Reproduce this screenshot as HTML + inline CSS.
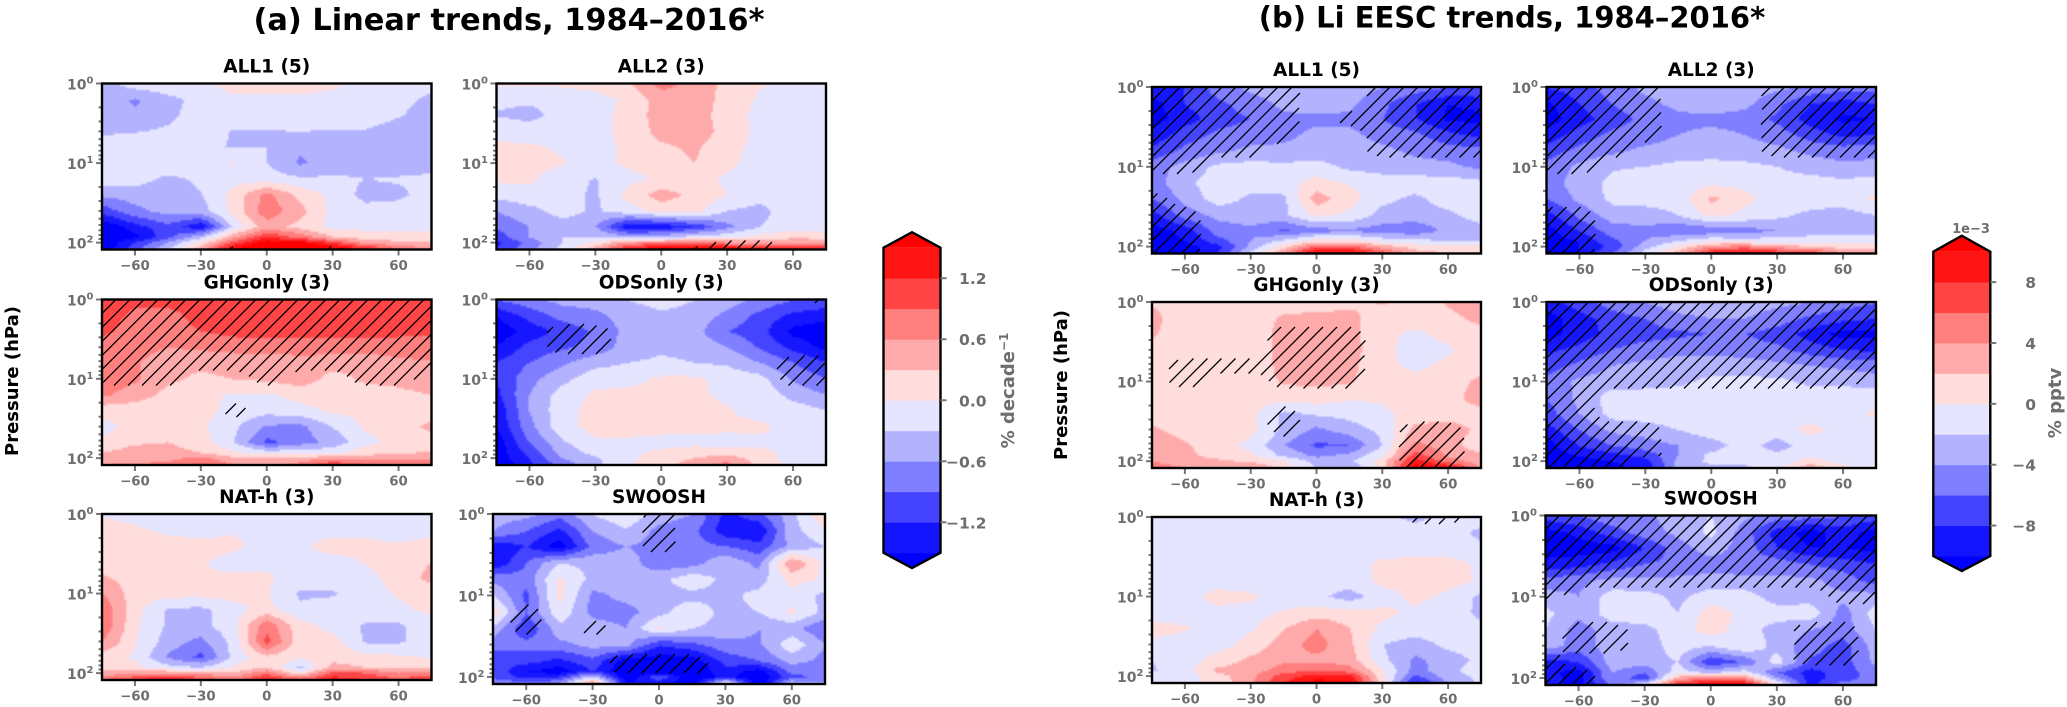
<!DOCTYPE html>
<html lang="en">
<head>
<meta charset="utf-8">
<title>Linear and Li EESC trends, 1984–2016</title>
<style>
html,body{margin:0;padding:0;background:#fff;}
svg{display:block;}
text{font-family:"DejaVu Sans","Liberation Sans",sans-serif;font-weight:bold;}
</style>
</head>
<body>
<svg id="figure" xmlns="http://www.w3.org/2000/svg" width="2067" height="707" viewBox="0 0 2067 707">
<defs><filter id="soft" x="-2%" y="-2%" width="104%" height="104%"><feGaussianBlur stdDeviation="0.7"/></filter></defs>
<rect width="2067" height="707" fill="#fff"/>
<text x="509" y="30" font-size="30.4" text-anchor="middle" fill="#000">(a) Linear trends, 1984–2016*</text>
<text x="1512" y="27.5" font-size="29" text-anchor="middle" fill="#000">(b) Li EESC trends, 1984–2016*</text>
<text transform="translate(18,381) rotate(-90)" font-size="18" text-anchor="middle" fill="#000">Pressure (hPa)</text>
<text transform="translate(1067,385) rotate(-90)" font-size="18" text-anchor="middle" fill="#000">Pressure (hPa)</text>
<text transform="translate(1014,390.5) rotate(-90)" font-size="18" text-anchor="middle" fill="#6e6e6e">% decade<tspan font-size="12" dy="-6">−1</tspan></text>
<text transform="translate(2061,403) rotate(-90)" font-size="18" text-anchor="middle" fill="#6e6e6e">% pptv</text>
<text x="1971" y="233" font-size="13" text-anchor="middle" fill="#6e6e6e">1e−3</text>
<g id="panels"></g>
<g id="bars"></g>
</svg>
<script>
const lats = [-75,-60,-45,-30,-15,0,15,30,45,60,75];
const pressures = [1,1.6,2.5,4,6.3,10,16,25,40,63,85,100,122];
const latTicks = [-60,-30,0,30,60];
const latTickLabels = ['−60','−30','0','30','60'];
const decadeTicks = [1,10,100];
const decadeExponents = ['0','1','2'];
const minorMultipliers = [2,3,4,5,6,7,8,9];
const bandColors = ['#0000ff','#1414ff','#4444ff','#7f7fff','#b2b2ff','#e5e5ff','#ffdddd','#ffaaaa','#ff7f7f','#ff4444','#ff1414','#ff0000'];
const levelsLinear = [-1.5,-1.2,-0.9,-0.6,-0.3,0,0.3,0.6,0.9,1.2,1.5];
const levelsEesc = [-10,-8,-6,-4,-2,0,2,4,6,8,10];
const barTicksLinear = [1.2,0.6,0,-0.6,-1.2];
const barLabelsLinear = ['1.2','0.6','0.0','−0.6','−1.2'];
const barTicksEesc = [8,4,0,-4,-8];
const barLabelsEesc = ['8','4','0','−4','−8'];

const linearAll1 = [
[-.45,-.15,-.1,-.05,.1,.1,.1,.05,-.1,-.15,-.2],
[-.4,-.65,-.4,-.2,-.05,-.05,-.05,-.1,-.15,-.2,-.38],
[-.45,-.55,-.38,-.15,-.15,-.15,-.15,-.15,-.15,-.28,-.45],
[-.35,-.32,-.25,-.15,-.33,-.32,-.3,-.33,-.33,-.45,-.45],
[-.15,-.12,-.12,-.25,-.32,-.3,-.55,-.45,-.4,-.45,-.45],
[-.12,-.1,-.1,-.1,.02,-.3,-.65,-.45,-.4,-.4,-.4],
[-.15,-.2,-.38,-.25,-.1,-.15,-.25,-.25,-.3,-.28,-.25],
[-.55,-.45,-.4,-.32,.1,.7,.2,-.1,-.4,-.35,-.2],
[-1.1,-.7,-.5,-.45,.1,.8,.4,-.1,-.2,-.2,-.2],
[-1.8,-1.35,-1.0,-1.5,-.2,.45,.2,-.1,-.1,-.1,-.12],
[-1.8,-1.6,-1.0,-.4,.5,1.2,.8,.3,.15,.15,.15],
[-1.8,-1.2,-.6,.1,1.0,1.7,1.6,1.1,.5,.35,.3],
[-1.8,-1.0,-.3,.5,1.7,2,2,1.8,1.4,.9,.7]];
const linearAll1Sig = ['00000000000','00000000000','00000000000','00000000000','00000000000','00000000000','00000000000','00000000000','00000000000','00000000000','00000000000','00000000000','00001001000'];

const linearAll2 = [
[.02,.02,.05,.1,.25,.7,.5,.2,.02,-.05,-.1],
[-.25,-.25,-.2,-.12,.05,.45,.45,.2,-.05,-.1,-.1],
[-.32,-.4,-.2,-.1,.1,.45,.45,.15,-.1,-.1,-.1],
[-.1,-.15,-.1,-.1,.1,.4,.45,.2,-.1,-.1,-.1],
[.05,.05,-.05,-.1,.05,.25,.35,.1,-.1,-.1,-.1],
[.12,.12,.02,-.1,.05,.15,.3,.05,-.1,-.1,-.1],
[.05,.05,-.2,-.32,-.1,.05,.1,-.05,-.1,-.1,-.1],
[-.2,-.12,-.2,-.35,.1,.45,.2,0,-.2,-.12,-.1],
[-.6,-.4,-.2,-.35,-.15,.1,.1,-.32,-.4,-.1,-.1],
[-.85,-.6,-.4,-.6,-1.5,-1.5,-1.2,-.7,-.3,-.15,-.12],
[-1.1,-.6,-.3,-.3,-.5,-.4,-.2,-.12,.1,.25,.2],
[-1.3,-.8,-.3,.05,.6,.7,.8,.6,.45,.5,.5],
[-1.2,-.7,-.2,.5,1.4,1.8,1.8,1.7,1.7,1.5,1.3]];
const linearAll2Sig = ['00000000000','00000000000','00000000000','00000000000','00000000000','00000000000','00000000000','00000000000','00000000000','00000000000','00000000000','00000001100','00000011100'];

const linearGhg = [
[1.0,.95,1.0,1.05,1.05,1.05,1.05,1.05,1.05,1.0,1.0],
[1.0,.85,.8,1.0,1.05,1.05,1.05,1.05,1.05,1.0,1.0],
[.95,.8,.8,.9,1.0,1.0,1.0,1.0,1.0,.95,.95],
[.8,.75,.6,.65,.7,.75,.75,.75,.75,.8,.8],
[.75,.65,.35,.35,.4,.35,.45,.4,.35,.5,.55],
[.8,.65,.35,.25,.3,.35,.45,.2,.35,.4,.5],
[.65,.45,.2,.1,-.05,-.05,.1,.15,.15,.2,.3],
[.1,.1,.1,.1,-.1,-.2,-.1,.05,.1,.1,.1],
[-.1,.1,.1,.05,-.25,-.65,-.7,-.3,.05,.1,.4],
[.05,.25,.3,.15,-.3,-1.0,-.75,-.5,-.1,.1,.1],
[.3,.45,.4,.3,.05,-.15,-.15,-.1,.2,.25,.35],
[.4,.45,.5,.7,.35,.4,.45,.5,.45,.5,.55],
[.6,.65,.7,1.0,.6,.5,.7,1.2,.9,.85,.9]];
const linearGhgSig = ['11111111111','11111111111','11111111111','11111111111','11111111111','11100100110','00000000000','00001000000','00000000000','00000000000','00000000000','00000000000','00000000000'];

const linearOds = [
[-.9,-.7,-.5,-.45,-.3,-.2,-.3,-.45,-.7,-.9,-1.0],
[-1.5,-1.1,-.8,-.7,-.45,-.35,-.4,-.7,-1.0,-1.3,-1.4],
[-1.7,-1.4,-1.1,-.85,-.5,-.4,-.5,-.9,-1.1,-1.6,-1.7],
[-1.5,-1.1,-.95,-.8,-.45,-.35,-.4,-.6,-.95,-1.3,-1.6],
[-1.2,-.9,-.65,-.4,-.3,-.25,-.3,-.35,-.6,-.9,-1.2],
[-1.2,-.7,-.4,-.12,-.1,.05,.05,-.1,-.2,-.65,-.9],
[-1.3,-.6,-.15,.05,.1,.1,.05,-.05,-.1,-.4,-.6],
[-1.45,-.6,-.1,.1,.1,.1,.1,.02,-.1,-.15,-.3],
[-1.5,-.7,-.1,.1,.1,.1,.1,.05,.05,-.1,-.15],
[-1.7,-.9,-.35,-.05,-.05,-.1,-.1,-.1,-.05,-.1,-.1],
[-1.7,-1.1,-.5,-.2,-.05,.05,.15,.1,.05,-.05,-.1],
[-1.7,-1.2,-.6,-.35,-.05,.1,.3,.5,.1,-.1,-.1],
[-1.8,-1.3,-.8,-.4,-.02,.15,.5,.7,.2,-.1,-.1]];
const linearOdsSig = ['00000000001','00000000000','00110000000','00110000000','00000000011','00000000011','00000000000','00000000000','00000000000','00000000000','00000000000','00000000000','00000000000'];

const linearNat = [
[-.02,-.1,-.3,-.1,-.1,-.05,-.1,-.1,-.1,-.1,-.1],
[.1,.05,-.05,-.1,-.02,-.1,-.1,-.08,-.05,-.1,-.1],
[.1,.1,.1,.1,.05,-.1,-.05,.1,.05,.02,.1],
[.1,.1,.1,.02,-.1,-.1,-.1,-.1,.02,.1,.3],
[.35,.15,.1,.02,.05,.05,-.15,-.1,-.08,.1,.4],
[.6,.15,.1,.1,.1,.02,-.35,-.35,-.1,.02,.1],
[.85,.1,-.35,-.4,-.1,.1,-.25,-.1,-.1,-.05,.05],
[.85,.05,-.35,-.4,-.1,.8,.1,-.1,-.35,-.35,-.1],
[.6,.02,-.45,-.7,-.2,1.0,.1,.1,-.35,-.35,-.1],
[.15,-.05,-.65,-1.0,-.2,.2,.05,.2,.1,.05,-.02],
[.15,.1,-.2,-.3,.05,.3,-.4,.4,.3,.3,.3],
[.4,.55,.6,.5,.35,.8,.1,1.0,.9,.6,.7],
[.9,1.2,1.5,1.1,.8,1.4,1.0,1.4,1.2,1.0,1.3]];
const linearNatSig = ['00000000000','00000000000','00000000000','00000000000','00000000000','00000000000','00000000000','00000000000','00000000000','00000000000','00000000000','00000000000','00000000000'];

const linearSwoosh = [
[-.45,-.5,-.8,-.3,-.05,-.45,-.6,-1.3,-1.0,-.4,.3],
[-.6,-.9,-1.3,-.6,-.35,-.7,-.8,-1.4,-1.5,-.4,-.1],
[-1.5,-1.2,-1.7,-.8,-.6,-.7,-.8,-.9,-1.1,-.5,-.3],
[-1.5,-.9,-.3,-.4,-.45,-.8,-.75,-.35,-.7,.6,-.1],
[-.7,-.8,.05,-.4,-.5,-.4,-.1,-.4,-.45,.1,-.05],
[-.3,-1.0,.1,-.7,-.5,-.4,-.4,-.4,-.2,-.1,-.4],
[.2,-.9,-.1,-.7,-.75,-.4,-.1,-.4,-.3,.05,-.4],
[-.4,-1.2,-.4,-.45,-.6,.05,-.3,-.4,-.6,-.5,-.9],
[-.8,-.8,-.7,-.5,-.5,-1.2,-1.0,-.7,-.65,-.1,-.6],
[-1.1,-1.1,-1.3,-1.0,-1.7,-1.7,-1.7,-1.1,-.9,-.5,-.7],
[-1.0,-1.5,-1.7,-1.2,-1.8,-1.8,-1.8,-1.3,-1.7,-.8,-.9],
[-1.0,-1.3,-1.2,-.3,-1.8,-1,-1.8,-1.4,-1.8,-1.0,-.8],
[-.6,-.8,-.6,.8,-1.4,-1.5,-1.7,.2,-1.8,-.3,-.5]];
const linearSwooshSig = ['00000100000','00000100000','00000100000','00000000000','00000000000','00000000000','01000000000','01010000000','00000000000','00001110000','00001110000','00000000000','00000000000'];

const eescAll1 = [
[-8,-8,-5,-3.5,-3,-2.5,-3,-4,-5,-6,-6],
[-11,-8,-6.5,-5,-3.5,-3,-3.5,-5.5,-8,-10,-9.5],
[-11,-9,-7,-6,-4.5,-4.5,-4.5,-6,-8,-10.5,-10.5],
[-9.5,-7,-5.5,-5,-4.5,-3.5,-3.5,-4.8,-5.5,-7.5,-8.5],
[-7.5,-5.5,-4.5,-3.5,-3.5,-3.2,-3,-3.5,-4.5,-5,-5.5],
[-5,-3.3,-1.5,-1.2,-1.5,-1.2,-2.5,-3,-3.2,-3.5,-4.5],
[-5,-2.5,-1,-1,-.8,.8,-.2,-.8,-1,-1,-1.5],
[-6,-3.5,-1,-2.5,-2.5,3,.8,-1.5,-2.5,-1,-1],
[-9,-5,-3.5,-3,-2.5,.5,-.5,-2.8,-3,-2.5,-1],
[-11,-9.5,-5,-4.5,-6.5,-5,-4.5,-5,-5.5,-3.5,-3],
[-11,-10,-7,-4,-1.5,1,1,-.8,-1.5,-2,-2],
[-11,-11,-9,-3.5,1,6,6,3,1,.5,.5],
[-11,-11,-8,-1.5,4,11,11,7,3,2,1.5]];
const eescAll1Sig = ['11111001111','11111001111','11111011111','11111001111','11110001111','11000000000','00000000000','10000000000','11000000000','11000000000','11000000000','11000000000','11000000000'];

const eescAll2 = [
[-8,-7,-5,-3.5,-3,-3,-3,-3.5,-4.5,-5,-5.5],
[-10.5,-8,-6,-4.5,-3.5,-3,-3.5,-5.5,-8,-9,-8],
[-11,-9,-7,-5.5,-4.5,-4.5,-4.8,-6.5,-9,-10.5,-10],
[-9.5,-7,-5.5,-5,-4,-3.5,-4,-5,-7,-8.5,-8],
[-7,-5.5,-4.5,-3.5,-3,-3,-3,-3.5,-4.5,-5,-4.5],
[-5.5,-3.5,-2.2,-2,-1.5,-1.2,-1.5,-2,-3,-3.5,-3.5],
[-5,-3,-1.5,-1,-1,-.5,-.5,-1,-1,-1.5,-1],
[-6,-3.5,-1.5,-1.2,-1.2,2.5,.5,-1,-1,-1,.5],
[-9,-5.5,-3,-3,-2,.5,-.5,-1.5,-2.5,-3,-2],
[-11,-8,-5,-4.5,-6,-5.5,-5,-4,-3,-3,-3],
[-11,-10,-6.5,-4,-2,-.5,-1,-1,-1,-1,-1],
[-11,-10,-7.5,-3,.5,4,5,3,2,1,1],
[-11,-10,-6,-1,3,9,11,9,8,4,3]];
const eescAll2Sig = ['11110001111','11110001111','11110001111','11110001111','11100001111','11000000000','00000000000','00000000000','11000000000','11000000000','11000000000','11000000000','11000000000'];

const eescGhg = [
[1.8,1,1,1,1,1,1.5,2.2,1,2.2,3],
[2.5,1,1,1,2.3,2.6,2.6,.9,1,1.5,2.5],
[2.2,1,1,1,2.6,2.8,2.7,.6,-.5,.7,1.4],
[1.5,1,1,1,2.6,2.8,2.8,.6,-1,-.3,1],
[1,1,1,1,2.5,2.7,2.5,.6,-.5,.5,1.2],
[1.5,1.7,1,1,2.2,2.5,2.2,.9,.7,1,2.5],
[1,.7,1,1,.7,1,.2,.3,.9,1.2,3],
[1,1,1,.5,-2.5,-1.7,-1.3,-.5,.8,1,1.2],
[2.3,1.3,1,.6,-2.5,-4.5,-3,-1.5,2.6,3,1.5],
[3,2.2,1,-.6,-4,-6.5,-6,-2,4.5,3,.5],
[3.5,2.5,1.2,.3,-2.5,-4.5,-3.5,-.5,7,3.5,2.5],
[4,3,2.5,1.5,.3,-3,-2.5,1,9,5,3],
[5,4,3.5,4.2,1,-2,-4,1,11,10,3.5]];
const eescGhgSig = ['00000000000','00000000000','00001110000','00001110000','01111110000','01001110000','00000000000','00001000000','00001000110','00000000110','00000000110','00000000110','00000000110'];

const eescOds = [
[-9,-7,-5,-4,-3,-3,-3,-3.5,-4,-5,-6],
[-11,-9,-7,-6,-4.5,-4,-4,-5,-6.5,-7.5,-8],
[-11,-9,-7.5,-7,-6.5,-6,-6,-7,-9,-11,-10.5],
[-8.5,-7.5,-6,-5,-4.5,-4.5,-5,-5.5,-7,-8,-8.5],
[-7,-5.5,-4,-3.5,-3.2,-3,-3,-3.5,-4,-4.5,-5],
[-5.5,-3.5,-3,-3,-2.5,-1.5,-1.5,-1.5,-2.5,-2.5,-3],
[-6,-3.5,-1,-.8,-.8,-.8,-.8,-.8,-.8,-.8,-.8],
[-7,-4,-1.2,-1,-.8,-.8,-.8,-.5,-.8,-.8,.3],
[-9,-6,-3.5,-3,-2,-.8,-.8,-.8,.5,-.8,-.8],
[-11,-8,-6,-5,-4,-3,-1,-3,-1,-1,-1],
[-11,-10,-9,-7.5,-4,-1.5,-1,-1.5,-.5,-.8,-2],
[-11,-11,-10,-9,-3.5,-1.5,-1.5,-1,.8,-.8,-.8],
[-11,-11,-10.5,-10,-3,-3,-2.5,-1,3.5,.5,-.8]];
const eescOdsSig = ['11111111111','11111111111','11111111111','11111111111','11111111111','11111111110','11000000000','11000000000','11110000000','11110000000','11110000000','11100000000','11100000000'];

const eescNat = [
[-1,-1,-1,-1,-1,-1,-1,-1.5,-2.5,-1.5,-1.2],
[-1,-1,-1,-1,-1,-1,-1,-1,-1,-1.2,-2.5],
[-1,-1,-1,-1,-1,-1,-1,-1,-1,-1,-1.5],
[-1,-1,-1,-1,-1,-1,-1,.5,1,1,-.5],
[-1,-1,-1,-1,-1,-1,-1,.5,1,.8,-.3],
[-1,-1,.8,.3,-1,-1.5,-3,-1,.5,-.5,-2.5],
[-1,-1,-.8,-.8,.2,1,.8,.5,-.5,-1,-2.5],
[.8,.2,-1,-.3,1.8,4,2,-.5,-1,-1,-1.5],
[-.5,-1,-.8,.7,3,4.8,2.5,-2,-3,-1.5,-1.2],
[-2,-1,.8,2.5,3.5,3.5,3,-1.5,-4.5,-3,-1.5],
[-2.2,-1,2.5,3,5,6,5,.2,-5,-2.5,-1],
[-1,-1,1.2,3.5,7,9,8.5,.5,-6.5,-3,-1.5],
[-1,-1,.8,3.5,8,11,10.5,1,-9,-4,-1.5]];
const eescNatSig = ['00000000110','00000000000','00000000000','00000000000','00000000000','00000000000','00000000000','00000000000','00000000000','00000000000','00000000000','00000000000','00000000000'];

const eescSwoosh = [
[-7,-6,-4.5,-4.5,-3,-2,-3.5,-5,-5,-6,-7],
[-11,-9.5,-7,-5,-3.5,-1.5,-5,-9,-11,-9,-11],
[-11,-11,-11,-8,-5,-3,-5,-8,-10,-10,-11],
[-9.5,-9,-7.5,-6,-5.5,-5,-5,-5,-6,-7,-8],
[-5.5,-4.5,-3.5,-3.5,-3.5,-3.2,-3.5,-3.5,-3.5,-5,-7],
[-3,-4,-1,-1.2,-2.5,-1,-1,-3,-3,-3.5,-3],
[-1.5,-3.5,-1,-1,-2,1,-.5,-1,-.8,-5,-1],
[-2,-5,-3,-2.5,-1,1,-1,-3,-4,-5,-2],
[-3,-5,-3,-3.2,-1,-2,0,-3,-5,-7,-3],
[-9,-8,-3,-3,-2,-8,-6,-1,-6.5,-7,-3.5],
[-9.5,-11,-4,-6,-1,-3,-1,-6,-9,-7,-5],
[-9,-11,-4,-8,3,5,4,-4,-9,-7,-5],
[-9,-11,-6,-1,9,11,11,1,-9,-5,-5.5]];
const eescSwooshSig = ['11111111111','11111111111','11111111111','11111111111','11111111111','10000000011','00000000000','01100000110','01100000110','10000000110','11000000000','11000000000','11000000000'];

const hatchSpacing = 14;
const axisTopHpa = 1;
const axisBottomHpa = 122;
const axisWestLat = -75;
const axisEastLat = 75;
const svgNS = 'http://www.w3.org/2000/svg';

function mk(tag, attrs, parent){
  const el = document.createElementNS(svgNS, tag);
  for (const k in attrs) el.setAttribute(k, attrs[k]);
  parent.appendChild(el);
  return el;
}
function lat2x(b, lat){ return b.x0 + (lat - axisWestLat) / (axisEastLat - axisWestLat) * (b.x1 - b.x0); }
function hpa2y(b, p){ return b.y0 + (Math.log10(p) - Math.log10(axisTopHpa)) / (Math.log10(axisBottomHpa) - Math.log10(axisTopHpa)) * (b.y1 - b.y0); }
function sample(getter, lat, lp){
  let i = 0; while (i < lats.length - 2 && lat > lats[i + 1]) i++;
  let j = 0; while (j < pressures.length - 2 && lp > Math.log10(pressures[j + 1])) j++;
  const fx = Math.min(1, Math.max(0, (lat - lats[i]) / (lats[i + 1] - lats[i])));
  const a = Math.log10(pressures[j]), c = Math.log10(pressures[j + 1]);
  const fy = Math.min(1, Math.max(0, (lp - a) / (c - a)));
  return (getter(j, i) * (1 - fx) + getter(j, i + 1) * fx) * (1 - fy) + (getter(j + 1, i) * (1 - fx) + getter(j + 1, i + 1) * fx) * fy;
}
function bandOf(v, levels){ let k = 0; while (k < levels.length && v >= levels[k]) k++; return k; }

function drawField(g, b, grid, levels, name){
  const step = 2, w = b.x1 - b.x0, h = b.y1 - b.y0;
  const paths = bandColors.map(() => '');
  const get = (r, c) => grid[r][c];
  const emit = (k, x0, x1, y) => {
    const y1 = Math.min(h, y + step + 0.5);
    paths[k] += 'M' + (b.x0 + x0).toFixed(1) + ' ' + (b.y0 + y).toFixed(1) + 'H' + (b.x0 + x1).toFixed(1) + 'V' + (b.y0 + y1).toFixed(1) + 'H' + (b.x0 + x0).toFixed(1) + 'z';
  };
  for (let y = 0; y < h; y += step){
    const lp = Math.log10(axisBottomHpa) * Math.min(h, y + step / 2) / h;
    let start = 0, cur = -1;
    for (let x = 0; x < w; x += step){
      const k = bandOf(sample(get, axisWestLat + Math.min(w, x + step / 2) / w * (axisEastLat - axisWestLat), lp), levels);
      if (k !== cur){
        if (cur >= 0) emit(cur, start, x + 0.5, y);
        start = x; cur = k;
      }
    }
    if (cur >= 0) emit(cur, start, w, y);
  }
  paths.forEach((d, k) => {
    if (!d) return;
    const el = mk('path', {d: d, fill: bandColors[k], 'shape-rendering': 'crispEdges'}, g);
    
    
  });
}
function drawHatch(g, b, sig, name){
  const get = (r, c) => +sig[r][c];
  const w = b.x1 - b.x0, h = b.y1 - b.y0;
  let d = '';
  for (let c = -h; c < w; c += hatchSpacing){
    let inside = false, last = null;
    for (let t = 0; t <= h; t += 1.5){
      const px = c + t, py = h - t;
      const ok = px >= 0 && px <= w && sample(get, axisWestLat + px / w * (axisEastLat - axisWestLat), Math.log10(axisBottomHpa) * py / h) > 0.5;
      if (ok && !inside){ d += 'M' + (b.x0 + px).toFixed(1) + ' ' + (b.y0 + py).toFixed(1); }
      if (ok) last = [px, py];
      if (!ok && inside && last){ d += 'L' + (b.x0 + last[0]).toFixed(1) + ' ' + (b.y0 + last[1]).toFixed(1); }
      inside = ok;
    }
    if (inside && last) d += 'L' + (b.x0 + last[0]).toFixed(1) + ' ' + (b.y0 + last[1]).toFixed(1);
  }
  if (d){
    const el = mk('path', {d: d, fill: 'none', stroke: '#000', 'stroke-width': 1.25}, g);
    
    
  }
}
function drawAxes(g, b, name){
  const grey = '#6e6e6e';
  latTicks.forEach((lat, i) => {
    const x = lat2x(b, lat);
    const t = mk('line', {x1: x, x2: x, y1: b.y1, y2: b.y1 + 6, stroke: '#777', 'stroke-width': 2}, g);
    
    
    const l = mk('text', {x: x, y: b.y1 + 20.5, 'font-size': 13.3, 'text-anchor': 'middle', fill: grey}, g);
    l.textContent = latTickLabels[i];
    
    
  });
  decadeTicks.forEach((p, i) => {
    const y = hpa2y(b, p);
    const t = mk('line', {x1: b.x0 - 6, x2: b.x0, y1: y, y2: y, stroke: '#777', 'stroke-width': 2}, g);
    
    
    const l = mk('text', {x: b.x0 - 35, y: y + 6, 'font-size': 14, fill: grey}, g);
    
    
    const base = mk('tspan', {}, l);
    base.textContent = '10';
    const sup = mk('tspan', {'font-size': 10, dy: -6}, l);
    sup.textContent = decadeExponents[i];
    minorMultipliers.forEach(m => {
      const pm = p * m;
      if (pm > axisBottomHpa) return;
      const ym = hpa2y(b, pm);
      const mt = mk('line', {x1: b.x0 - 3.5, x2: b.x0, y1: ym, y2: ym, stroke: '#777', 'stroke-width': 2}, g);
      
      
    });
  });
  const frame = mk('rect', {x: b.x0, y: b.y0, width: b.x1 - b.x0, height: b.y1 - b.y0, fill: 'none', stroke: '#000', 'stroke-width': 2.4}, g);
  
  
}
function drawPanel(spec){
  const root = document.getElementById('panels');
  const g = mk('g', {}, root);
  
  
  const field = mk('g', {filter: 'url(#soft)'}, g);
  
  
  drawField(field, spec.box, spec.grid, spec.levels, spec.name);
  drawHatch(g, spec.box, spec.sig, spec.name);
  drawAxes(g, spec.box, spec.name);
  const title = mk('text', {x: (spec.box.x0 + spec.box.x1) / 2, y: spec.box.y0 - 11, 'font-size': 18.5, 'text-anchor': 'middle', fill: '#000'}, g);
  title.textContent = spec.title;
  
  
}
const panelSpecs = [
 {name:'linear-all1',title:'ALL1 (5)',grid:linearAll1,sig:linearAll1Sig,levels:levelsLinear,box:{x0:102,x1:431.5,y0:83.5,y1:249.5}},
 {name:'linear-all2',title:'ALL2 (3)',grid:linearAll2,sig:linearAll2Sig,levels:levelsLinear,box:{x0:496.5,x1:826,y0:83.5,y1:249.5}},
 {name:'linear-ghgonly',title:'GHGonly (3)',grid:linearGhg,sig:linearGhgSig,levels:levelsLinear,box:{x0:102,x1:431.5,y0:299.5,y1:465}},
 {name:'linear-odsonly',title:'ODSonly (3)',grid:linearOds,sig:linearOdsSig,levels:levelsLinear,box:{x0:496.5,x1:826,y0:299.5,y1:465}},
 {name:'linear-nat-h',title:'NAT-h (3)',grid:linearNat,sig:linearNatSig,levels:levelsLinear,box:{x0:102,x1:431.5,y0:514,y1:680}},
 {name:'linear-swoosh',title:'SWOOSH',grid:linearSwoosh,sig:linearSwooshSig,levels:levelsLinear,box:{x0:493,x1:825,y0:514,y1:684}},
 {name:'eesc-all1',title:'ALL1 (5)',grid:eescAll1,sig:eescAll1Sig,levels:levelsEesc,box:{x0:1152,x1:1481,y0:87,y1:253.5}},
 {name:'eesc-all2',title:'ALL2 (3)',grid:eescAll2,sig:eescAll2Sig,levels:levelsEesc,box:{x0:1546.5,x1:1876,y0:87,y1:253.5}},
 {name:'eesc-ghgonly',title:'GHGonly (3)',grid:eescGhg,sig:eescGhgSig,levels:levelsEesc,box:{x0:1152,x1:1481,y0:302,y1:468}},
 {name:'eesc-odsonly',title:'ODSonly (3)',grid:eescOds,sig:eescOdsSig,levels:levelsEesc,box:{x0:1546.5,x1:1876,y0:302,y1:468}},
 {name:'eesc-nat-h',title:'NAT-h (3)',grid:eescNat,sig:eescNatSig,levels:levelsEesc,box:{x0:1152,x1:1481,y0:517,y1:683}},
 {name:'eesc-swoosh',title:'SWOOSH',grid:eescSwoosh,sig:eescSwooshSig,levels:levelsEesc,box:{x0:1545.5,x1:1876,y0:515.5,y1:685}}
];
panelSpecs.forEach(drawPanel);

function drawBar(spec){
  const root = document.getElementById('bars');
  const g = mk('g', {}, root);
  
  
  const lv = spec.levels;
  const val2y = v => spec.yHigh + (lv[lv.length - 1] - v) / (lv[lv.length - 1] - lv[0]) * (spec.yLow - spec.yHigh);
  const mid = (spec.x0 + spec.x1) / 2;
  const top = mk('polygon', {points: spec.x0 + ',' + spec.yHigh + ' ' + mid + ',' + spec.apexHigh + ' ' + spec.x1 + ',' + spec.yHigh, fill: bandColors[bandColors.length - 1]}, g);
  
  
  const bot = mk('polygon', {points: spec.x0 + ',' + spec.yLow + ' ' + mid + ',' + spec.apexLow + ' ' + spec.x1 + ',' + spec.yLow, fill: bandColors[0]}, g);
  
  
  for (let i = 0; i < lv.length - 1; i++){
    const y0 = val2y(lv[i + 1]), y1 = val2y(lv[i]);
    const r = mk('rect', {x: spec.x0, y: y0, width: spec.x1 - spec.x0, height: y1 - y0 + 0.4, fill: bandColors[i + 1]}, g);
    
    
  }
  const outline = mk('polygon', {points: [[spec.x0, spec.yHigh],[mid, spec.apexHigh],[spec.x1, spec.yHigh],[spec.x1, spec.yLow],[mid, spec.apexLow],[spec.x0, spec.yLow]].map(p => p.join(',')).join(' '), fill: 'none', stroke: '#000', 'stroke-width': 2.4}, g);
  
  
  spec.ticks.forEach((v, i) => {
    const y = val2y(v);
    const t = mk('line', {x1: spec.x1, x2: spec.x1 + 6, y1: y, y2: y, stroke: '#777', 'stroke-width': 2}, g);
    
    
    const l = mk('text', {x: spec.labelX, y: y + 6, 'font-size': 15.5, 'text-anchor': 'end', fill: '#6e6e6e'}, g);
    l.textContent = spec.labels[i];
    
    
  });
}
drawBar({name:'linear-colorbar',levels:levelsLinear,ticks:barTicksLinear,labels:barLabelsLinear,x0:883.5,x1:940.5,yHigh:247.7,yLow:552.8,apexHigh:232.3,apexLow:568,labelX:986.5});
drawBar({name:'eesc-colorbar',levels:levelsEesc,ticks:barTicksEesc,labels:barLabelsEesc,x0:1933.3,x1:1990.3,yHigh:251.7,yLow:556,apexHigh:235.7,apexLow:571,labelX:2036});
</script>
</body>
</html>
